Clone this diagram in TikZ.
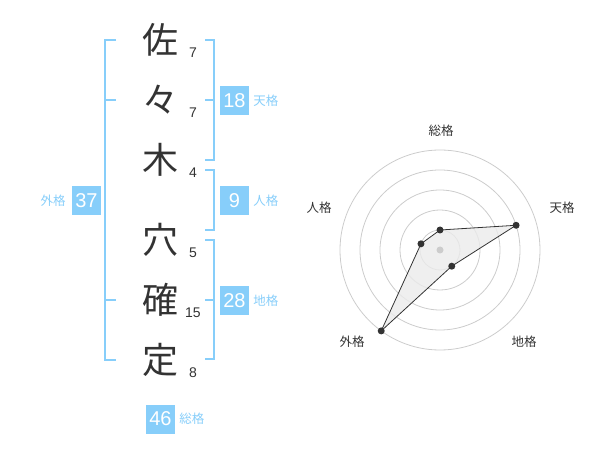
\documentclass[tikz,border=0pt]{standalone}
\usepackage{fontspec}
\usetikzlibrary{calc}
\setmainfont{Liberation Sans}
\newfontfamily\jp{Noto Sans CJK JP}
\definecolor{sky}{RGB}{135,206,250}
\definecolor{ink}{RGB}{51,51,51}
\definecolor{grid}{RGB}{204,204,204}
\begin{document}
\begin{tikzpicture}[x=1pt,y=-1pt,
  kanji/.style={font=\jp\fontsize{36}{36}\selectfont, text=ink, inner sep=0pt},
  strokes/.style={font=\fontsize{14}{14}\selectfont, text=ink, inner sep=0pt},
  bracket/.style={draw=sky, line width=2pt},
  valbox/.style={fill=sky, text=white, minimum width=29pt, minimum height=29pt, inner sep=0pt, font=\fontsize{20}{20}\selectfont},
  kaku/.style={text=sky, font=\jp\fontsize{12.5}{12.5}\selectfont, inner sep=0pt},
  rlabel/.style={text=ink, font=\jp\fontsize{12.5}{12.5}\selectfont, inner sep=0pt},
  ring/.style={draw=grid, line width=0.8pt},
  dot/.style={circle, fill=ink, inner sep=0pt, minimum size=7pt}]
\useasboundingbox (0,0) rectangle (600,470);
% name characters
\node[kanji] (c1) at (160,40) {佐};
\node[kanji] (c2) at (160,100) {々};
\node[kanji] (c3) at (160,160) {木};
\node[kanji] (c4) at (160,240) {穴};
\node[kanji] (c5) at (160,300) {確};
\node[kanji] (c6) at (160,360) {定};
\node[strokes] (s1) at (193,53) {7};
\node[strokes] (s2) at (193,113) {7};
\node[strokes] (s3) at (193,173) {4};
\node[strokes] (s4) at (193,253) {5};
\node[strokes] (s5) at (193,313) {15};
\node[strokes] (s6) at (193,373) {8};
% brackets
\draw[bracket] (116,40) -- (105,40) -- (105,360) -- (116,360);
\draw[bracket] (105,100) -- (116,100);
\draw[bracket] (105,300) -- (116,300);
\draw[bracket] (205,40) -- (214,40) -- (214,160) -- (205,160);
\draw[bracket] (205,100) -- (214,100);
\draw[bracket] (205,170) -- (214,170) -- (214,230) -- (205,230);
\draw[bracket] (205,240) -- (214,240) -- (214,359) -- (205,359);
\draw[bracket] (205,300) -- (214,300);
% value boxes
\node[valbox] (ten) at (234.5,100.5) {18};
\node[kaku, anchor=west] (tenl) at ([xshift=4pt]ten.east) {天格};
\node[valbox] (jin) at (234.5,200.5) {9};
\node[kaku, anchor=west] (jinl) at ([xshift=4pt]jin.east) {人格};
\node[valbox] (chi) at (234.5,300.5) {28};
\node[kaku, anchor=west] (chil) at ([xshift=4pt]chi.east) {地格};
\node[valbox] (gai) at (86.5,200.5) {37};
\node[kaku, anchor=east] (gail) at ([xshift=-6pt]gai.west) {外格};
\node[valbox] (sou) at (160.5,419) {46};
\node[kaku, anchor=west] (soul) at ([xshift=4pt]sou.east) {総格};
% radar chart
\coordinate (o) at (440,250);
\foreach \r in {20,40,60,80,100} \draw[ring] (o) circle[radius=\r];
\coordinate (pS) at ($(o)+(-90:20)$);
\coordinate (pT) at ($(o)+(-18:80)$);
\coordinate (pC) at ($(o)+(54:20)$);
\coordinate (pG) at ($(o)+(126:100)$);
\coordinate (pJ) at ($(o)+(198:20)$);
\filldraw[fill=black!8, fill opacity=0.8, draw=ink, line width=0.8pt] (pS) -- (pT) -- (pC) -- (pG) -- (pJ) -- cycle;
\foreach \p in {pS,pT,pC,pG,pJ} \node[dot] at (\p) {};
\node[circle, fill=grid, inner sep=0pt, minimum size=7pt] (oc) at (o) {};
\node[rlabel] (lS) at (441,131) {総格};
\node[rlabel] (lT) at (562,208) {天格};
\node[rlabel] (lJ) at (319,208) {人格};
\node[rlabel] (lG) at (352,342) {外格};
\node[rlabel] (lC) at (524,342) {地格};
\end{tikzpicture}
\end{document}
